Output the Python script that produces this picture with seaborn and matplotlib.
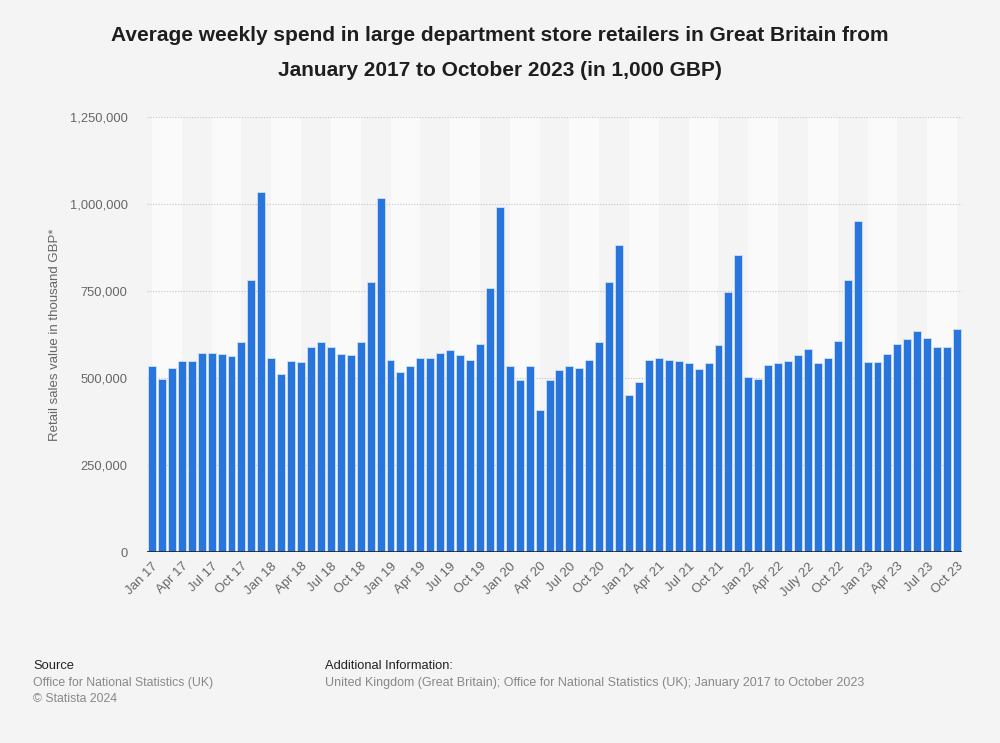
import matplotlib
matplotlib.use("Agg")
import matplotlib.pyplot as plt
import seaborn as sns
import numpy as np
import pandas as pd

# %% DATA ────────────────────────────────────────────────────────────────
years = ["17", "18", "19", "20", "21", "22", "23"]
month_names = ["Jan", "Feb", "Mar", "Apr", "May", "Jun",
               "Jul", "Aug", "Sep", "Oct", "Nov", "Dec"]
months = [f"{m} {y}" for y in years for m in month_names][:82]   # Jan 17 .. Oct 23

# average weekly spend, in 1,000 GBP (in thousands)
spend_2017 = [534, 497, 530, 550, 550, 573, 573, 569, 562, 603, 783, 1034]
spend_2018 = [557, 512, 550, 546, 588, 603, 588, 569, 565, 603, 775, 1016]
spend_2019 = [553, 516, 534, 557, 557, 573, 580, 565, 553, 599, 760, 992]
spend_2020 = [534, 493, 534, 409, 493, 523, 534, 530, 553, 603, 775, 881]
spend_2021 = [451, 489, 553, 557, 553, 550, 542, 527, 542, 596, 748, 854]
spend_2022 = [503, 496, 538, 542, 550, 565, 584, 542, 557, 607, 783, 950]
spend_2023 = [546, 546, 569, 599, 611, 634, 615, 588, 588, 642]
spend = [v * 1000 for v in spend_2017 + spend_2018 + spend_2019 + spend_2020
         + spend_2021 + spend_2022 + spend_2023]

tick_labels = ["Jan 17", "Apr 17", "Jul 17", "Oct 17",
               "Jan 18", "Apr 18", "Jul 18", "Oct 18",
               "Jan 19", "Apr 19", "Jul 19", "Oct 19",
               "Jan 20", "Apr 20", "Jul 20", "Oct 20",
               "Jan 21", "Apr 21", "Jul 21", "Oct 21",
               "Jan 22", "Apr 22", "July 22", "Oct 22",
               "Jan 23", "Apr 23", "Jul 23", "Oct 23"]

df = pd.DataFrame({"month": months, "spend": spend})

# %% STYLE ───────────────────────────────────────────────────────────────
BG = "#f4f4f4"
BAND = "#fafafa"
BAR = "#2876dd"
GREY = "#666666"

sns.set_theme(style="white")
plt.rcParams["font.family"] = ["Liberation Sans", "DejaVu Sans"]

fig = plt.figure(figsize=(10, 7.43), dpi=100, facecolor=BG)
ax = fig.add_axes([0.147, 0.257, 0.815, 0.5855])
ax.set_facecolor(BG)

# alternating quarter bands (Jan-Apr, Jul-Oct light)
for start in range(0, len(months), 6):
    ax.axvspan(start, min(start + 3, len(months) - 1), color=BAND, lw=0, zorder=0)

sns.barplot(data=df, x="month", y="spend", color=BAR, saturation=1,
            width=0.8, edgecolor="#cfe0f7", linewidth=0.6, ax=ax, zorder=3)

ax.set_xlim(-0.5, len(months) - 0.5)
ax.set_ylim(0, 1_250_000)
yt = np.arange(0, 1_250_001, 250_000)
ax.set_yticks(yt)
ax.set_yticklabels([f"{v:,.0f}" for v in yt], color=GREY, fontsize=9.3)
for v in yt[1:]:
    ax.axhline(v, color="#c4c4c4", lw=0.8, ls=(0, (1, 1.5)), zorder=1)
ax.axhline(0, color="#222222", lw=1.2, zorder=4)

ax.set_xticks(range(0, len(months), 3))
ax.set_xticklabels(tick_labels, rotation=45, ha="right", rotation_mode="anchor",
                   color=GREY, fontsize=9.5)
ax.tick_params(axis="x", length=0, pad=6)
ax.tick_params(axis="y", length=0, pad=14)
ax.set_xlabel("")
ax.set_ylabel("Retail sales value in thousand GBP*", color=GREY, fontsize=9.5, labelpad=6)
sns.despine(ax=ax, left=True, bottom=True)

fig.text(0.5, 0.9290, "Average weekly spend in large department store retailers in Great Britain from\n"
         "January 2017 to October 2023 (in 1,000 GBP)",
         ha="center", va="center", fontsize=15, fontweight="bold", color="#1e1e1e",
         linespacing=2.1)

fig.text(0.033, 0.103, "Source", fontsize=9.3, color="#222222", va="center")
fig.text(0.033, 0.081, "Office for National Statistics (UK)", fontsize=8.8, color="#888888", va="center")
fig.text(0.033, 0.059, "© Statista 2024", fontsize=8.8, color="#888888", va="center")
fig.text(0.325, 0.103, "Additional Information:", fontsize=9.3, color="#222222", va="center")
fig.text(0.325, 0.081, "United Kingdom (Great Britain); Office for National Statistics (UK); "
         "January 2017 to October 2023", fontsize=9.0, color="#888888", va="center")

fig.savefig("out.png", dpi=100, facecolor=BG)
